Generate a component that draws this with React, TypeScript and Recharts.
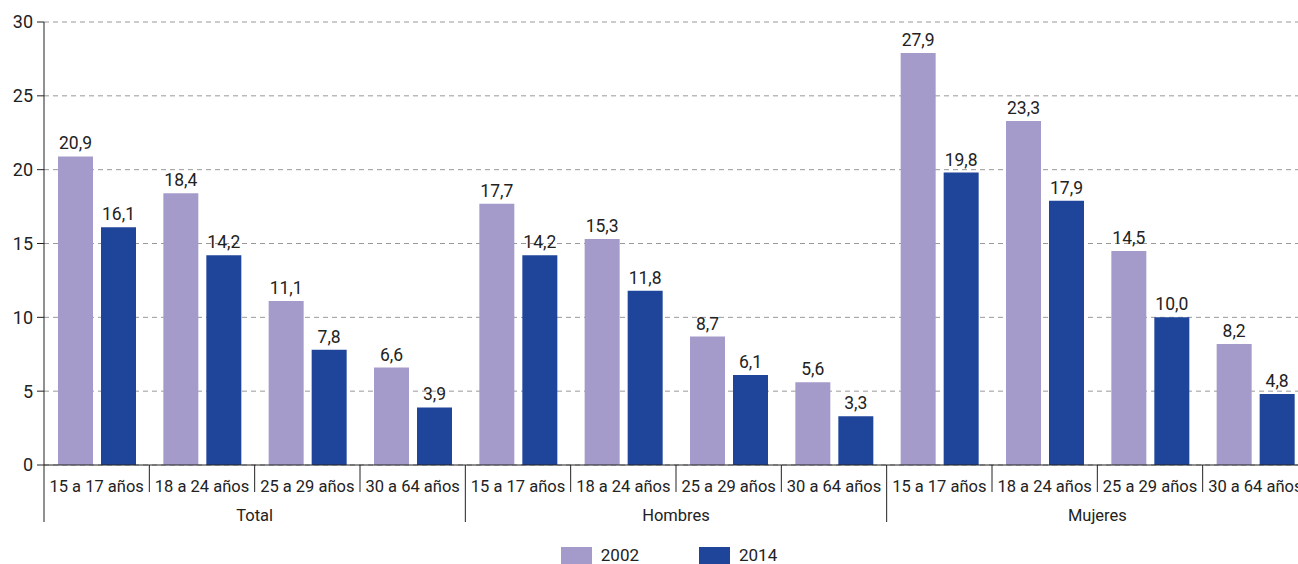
import React from 'react';
import { BarChart, Bar, XAxis, YAxis, CartesianGrid, LabelList, Legend } from 'recharts';

const ageGroups = ['15 a 17 años', '18 a 24 años', '25 a 29 años', '30 a 64 años'];
const sexGroups = ['Total', 'Hombres', 'Mujeres'];
const values2002 = [20.9, 18.4, 11.1, 6.6, 17.7, 15.3, 8.7, 5.6, 27.9, 23.3, 14.5, 8.2];
const values2014 = [16.1, 14.2, 7.8, 3.9, 14.2, 11.8, 6.1, 3.3, 19.8, 17.9, 10.0, 4.8];
const seriesNames = ['2002', '2014'];
const yTicks = [0, 5, 10, 15, 20, 25, 30];

const data = values2002.map((v, i) => ({
  age: ageGroups[i % 4],
  group: sexGroups[Math.floor(i / 4)],
  y2002: v,
  y2014: values2014[i],
}));

const COLORS = ['#A59BCB', '#1F459B'];
const FONT = "Roboto, 'Liberation Sans', sans-serif";
const FS = 16.5;
const W = 1310;
const H = 600;
const MARGIN = { top: 22, right: 2, left: 0, bottom: 30 };
const Y_W = 44;
const PLOT_W = W - MARGIN.left - MARGIN.right - Y_W;
const BAND = PLOT_W / data.length;
const AXIS_COLOR = '#222';
const TEXT = '#222';

const fmt = (v: number) => v.toFixed(1).replace('.', ',');

function CatTick(props: any) {
  const { x, y, payload, index } = props;
  const left = x - BAND / 2;
  const right = x + BAND / 2;
  const groupStart = index % 4 === 0;
  const isLast = index === data.length - 1;
  return (
    <g>
      <line x1={left} x2={left} y1={y} y2={groupStart ? y + 57 : y + 27} stroke={AXIS_COLOR} strokeWidth={1} />
      {isLast && <line x1={right} x2={right} y1={y} y2={y + 57} stroke={AXIS_COLOR} strokeWidth={1} />}
      <text x={x} y={y + 27} textAnchor="middle" fontSize={FS} fontFamily={FONT} fill={TEXT}>
        {payload.value}
      </text>
      {index % 4 === 1 && (
        <text x={right} y={y + 56} textAnchor="middle" fontSize={FS} fontFamily={FONT} fill={TEXT}>
          {data[index].group}
        </text>
      )}
    </g>
  );
}

function LegendContent() {
  return (
    <div style={{ display: 'flex', justifyContent: 'center', alignItems: 'flex-start', height: 30, paddingTop: 7, boxSizing: 'border-box', fontFamily: FONT, fontSize: 17, color: TEXT }}>
      {seriesNames.map((n, i) => (
        <div key={n} style={{ display: 'flex', alignItems: 'center', marginRight: i === 0 ? 60 : 0 }}>
          <div style={{ width: 31, height: 17, background: COLORS[i], marginRight: 9 }} />
          <span style={{ lineHeight: '15px' }}>{n}</span>
        </div>
      ))}
    </div>
  );
}

export default function App() {
  return (
    <div style={{ position: 'fixed', left: 0, top: 0, width: 1298, height: 564, overflow: 'hidden', background: '#fff' }}>
      <BarChart width={W} height={H} data={data} margin={MARGIN} barSize={35} barGap={8}>
        <CartesianGrid vertical={false} stroke="#999" strokeDasharray="5 4" />
        <XAxis
          dataKey="age"
          tick={<CatTick />}
          tickLine={false}
          tickSize={0}
          tickMargin={0}
          height={75}
          interval={0}
          axisLine={{ stroke: AXIS_COLOR }}
        />
        <YAxis
          domain={[0, 30]}
          ticks={yTicks}
          width={Y_W}
          tickSize={7}
          tickMargin={4}
          axisLine={{ stroke: AXIS_COLOR }}
          tickLine={{ stroke: AXIS_COLOR }}
          tick={{ fontSize: 18, fontFamily: FONT, fill: TEXT }}
        />
        <Legend verticalAlign="bottom" content={<LegendContent />} wrapperStyle={{ left: Y_W - 7, width: PLOT_W }} />
        <Bar dataKey="y2002" name={seriesNames[0]} fill={COLORS[0]} isAnimationActive={false}>
          <LabelList dataKey="y2002" position="top" offset={7} formatter={fmt as any} style={{ fontSize: 17.5, fontFamily: FONT, fill: TEXT }} />
        </Bar>
        <Bar dataKey="y2014" name={seriesNames[1]} fill={COLORS[1]} isAnimationActive={false}>
          <LabelList dataKey="y2014" position="top" offset={7} formatter={fmt as any} style={{ fontSize: 17.5, fontFamily: FONT, fill: TEXT }} />
        </Bar>
      </BarChart>
    </div>
  );
}
